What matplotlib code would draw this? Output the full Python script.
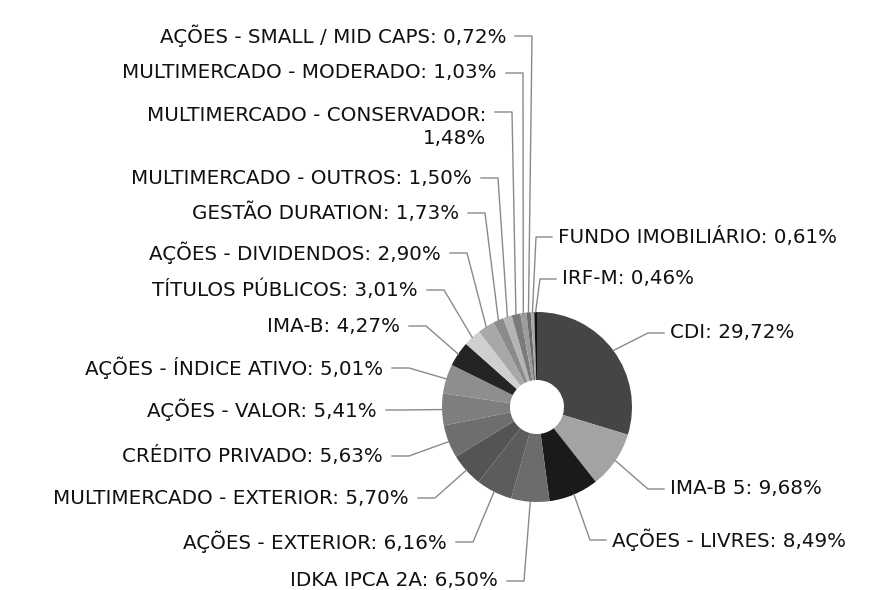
import matplotlib.pyplot as plt
import numpy as np

# fatias no sentido horario a partir do topo
categorias = ['CDI', 'IMA-B 5', 'AÇÕES - LIVRES', 'IDKA IPCA 2A', 'AÇÕES - EXTERIOR',
              'MULTIMERCADO - EXTERIOR', 'CRÉDITO PRIVADO', 'AÇÕES - VALOR',
              'AÇÕES - ÍNDICE ATIVO', 'IMA-B', 'TÍTULOS PÚBLICOS', 'AÇÕES - DIVIDENDOS',
              'GESTÃO DURATION', 'MULTIMERCADO - OUTROS', 'MULTIMERCADO - CONSERVADOR',
              'MULTIMERCADO - MODERADO', 'AÇÕES - SMALL / MID CAPS', 'FUNDO IMOBILIÁRIO',
              'IRF-M']
valores = [29.72, 9.68, 8.49, 6.50, 6.16, 5.70, 5.63, 5.41, 5.01, 4.27, 3.01, 2.90,
           1.73, 1.50, 1.48, 1.03, 0.72, 0.61, 0.46]

cores = ['#454545', '#a3a3a3', '#1a1a1a', '#6c6c6c', '#5c5c5c', '#545454', '#6e6e6e',
         '#7e7e7e', '#8e8e8e', '#242424', '#cfcfcf', '#a8a8a8', '#8a8a8a', '#b4b4b4',
         '#7a7a7a', '#9c9c9c', '#6a6a6a', '#a8a8a8', '#111111']

# posicao dos rotulos (pixels da imagem): x da borda do texto, y do centro, lado
rot_x = [670, 670, 612, 498, 447, 409, 383, 377, 383, 400, 418, 441, 459, 472, 486,
         497, 506, 558, 562]
rot_y = [333, 489, 540, 581, 542, 498, 456, 410, 368, 326, 290, 253, 213, 178, 127,
         73, 36, 237, 279]
lado = ['d', 'd', 'd', 'e', 'e', 'e', 'e', 'e', 'e', 'e', 'e', 'e', 'e', 'e', 'e',
        'e', 'e', 'd', 'd']

centro = (537, 407)
raio = 95

fig = plt.figure(figsize=(8.69, 5.90), dpi=100)
ax = fig.add_axes([0, 0, 1, 1])

wedges, _ = ax.pie(valores, colors=cores, startangle=270, counterclock=True,
                   center=centro, radius=raio, frame=True,
                   wedgeprops=dict(width=raio - 27, linewidth=0))

for i, w in enumerate(wedges):
    txt = categorias[i] + ': ' + ('%.2f' % valores[i]).replace('.', ',') + '%'
    if categorias[i] == 'MULTIMERCADO - CONSERVADOR':
        txt = categorias[i] + ':\n' + ('%.2f' % valores[i]).replace('.', ',') + '%'
    ang = np.deg2rad((w.theta1 + w.theta2) / 2)
    px = centro[0] + raio * np.cos(ang)
    py = centro[1] + raio * np.sin(ang)
    x, y = rot_x[i], rot_y[i]
    ly = y - 15 if '\n' in txt else y
    if lado[i] == 'e':
        ax.text(x, y, txt, ha='right', va='center', fontsize=14.3, color='#111111',
                multialignment='right', linespacing=1.3)
        ax.plot([x + 9, x + 26, px], [ly, ly, py], color='#8a8a8a', lw=1)
    else:
        ax.text(x, y, txt, ha='left', va='center', fontsize=14.3, color='#111111')
        ax.plot([x - 6, x - 22, px], [ly, ly, py], color='#8a8a8a', lw=1)

ax.set_xlim(0, 869)
ax.set_ylim(590, 0)
ax.set_aspect('equal')
ax.axis('off')

fig.savefig('out.png', dpi=100)
